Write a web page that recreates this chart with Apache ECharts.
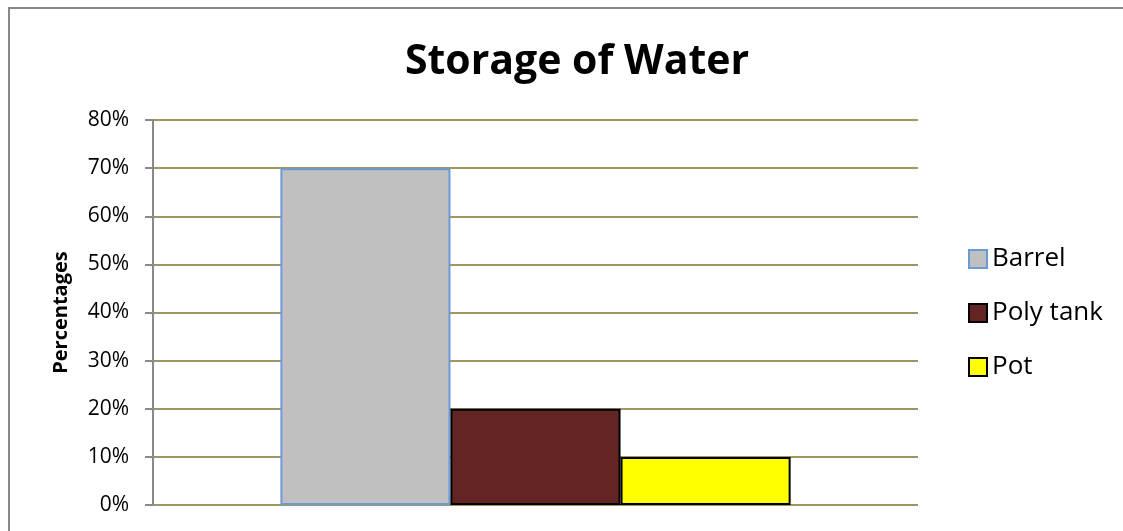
<!DOCTYPE html>
<html>
<head>
<meta charset="utf-8">
<script src="https://cdn.jsdelivr.net/npm/echarts@6/dist/echarts.min.js"></script>
<style>
  html, body { margin: 0; padding: 0; background: #fff; }
  #chart { width: 1123px; height: 531px; }
</style>
</head>
<body>
<div id="chart"></div>
<script>
// data
var categories = ['']
var seriesNames = ['Barrel', 'Poly tank', 'Pot']
var barrelData = [70]
var polyTankData = [20]
var potData = [10]
var yTicks = [0, 10, 20, 30, 40, 50, 60, 70, 80]

var font = '"Open Sans", sans-serif'
var chart = echarts.init(document.getElementById('chart'))

chart.setOption({
  animation: false,
  backgroundColor: '#fff',
  graphic: [{
    type: 'rect',
    shape: { x: 9, y: 8, width: 1130, height: 540 },
    style: { fill: 'none', stroke: '#888', lineWidth: 2 },
    silent: true
  }],
  title: {
    text: 'Storage of Water',
    left: 572,
    top: 37,
    textAlign: 'center',
    textStyle: { fontFamily: font, fontSize: 41, fontWeight: 'bold', color: '#000' }
  },
  legend: {
    orient: 'vertical',
    left: 963,
    top: 241,
    itemWidth: 18,
    itemHeight: 18,
    itemGap: 28,
    icon: 'rect',
    textStyle: { fontFamily: font, fontSize: 26, color: '#000', padding: [0, 0, 0, 0] },
    data: seriesNames
  },
  grid: { left: 153, right: 205, top: 120, bottom: 26 },
  xAxis: {
    type: 'category',
    data: categories,
    axisLine: { show: false },
    axisTick: { show: false },
    axisLabel: { show: false }
  },
  yAxis: {
    type: 'value',
    min: yTicks[0],
    max: yTicks[yTicks.length - 1],
    interval: 10,
    name: 'Percentages',
    nameLocation: 'middle',
    nameGap: 82,
    nameTextStyle: { fontFamily: font, fontSize: 20, fontWeight: 'bold', color: '#000' },
    axisLine: { show: true, lineStyle: { color: '#888', width: 2 } },
    axisTick: { show: true, length: 8, lineStyle: { color: '#888', width: 2 } },
    axisLabel: {
      formatter: '{value}%',
      margin: 24,
      fontFamily: font,
      fontSize: 21,
      color: '#000'
    },
    splitLine: { lineStyle: { color: '#a09660', width: 2 } }
  },
  series: [
    {
      name: seriesNames[0],
      type: 'bar',
      data: barrelData,
      barGap: '0%',
      barCategoryGap: '33.3%',
      itemStyle: { color: '#c0c0c0', borderColor: '#6a9bd8', borderWidth: 2 }
    },
    {
      name: seriesNames[1],
      type: 'bar',
      data: polyTankData,
      itemStyle: { color: '#632523', borderColor: '#000', borderWidth: 2 }
    },
    {
      name: seriesNames[2],
      type: 'bar',
      data: potData,
      itemStyle: { color: '#ffff00', borderColor: '#000', borderWidth: 2 }
    }
  ]
})
</script>
</body>
</html>
